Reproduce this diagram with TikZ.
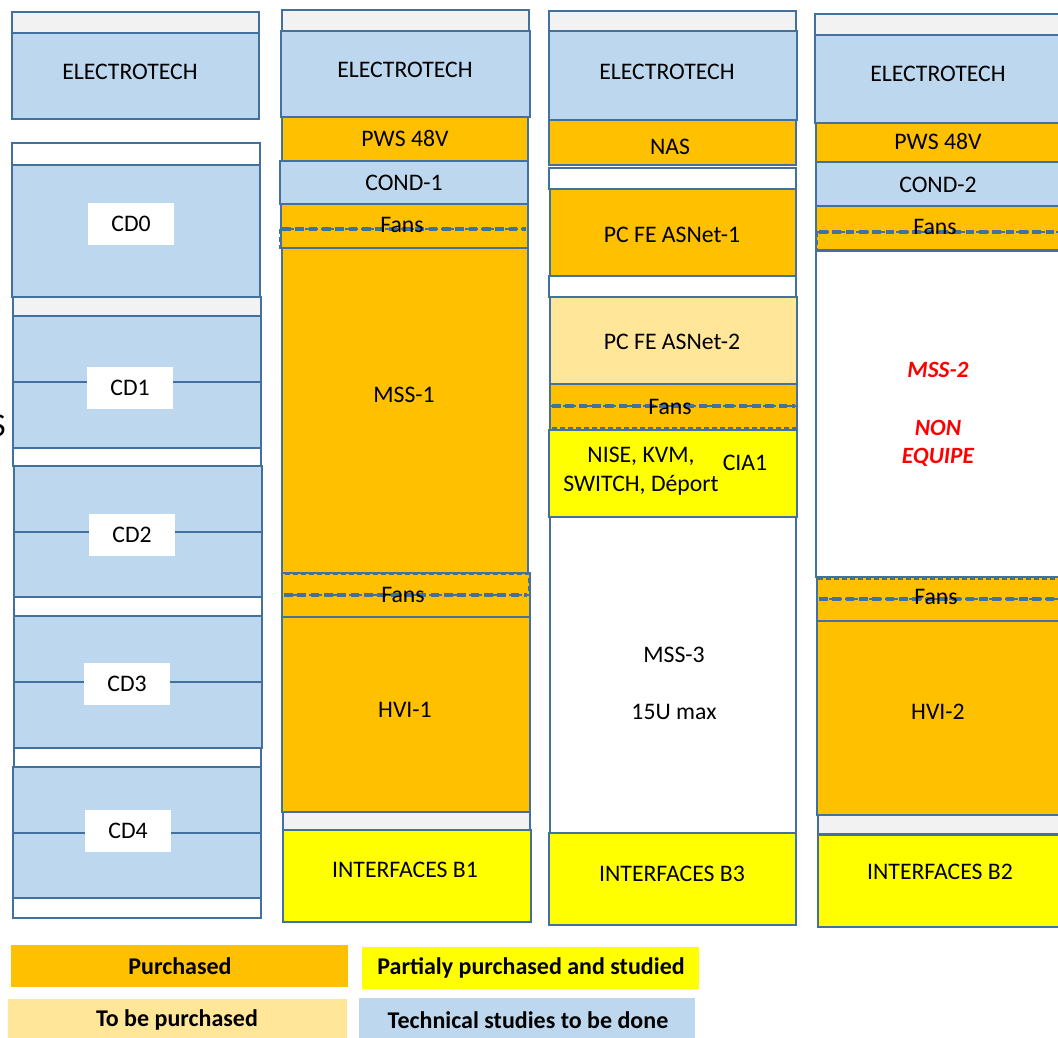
\documentclass[tikz,border=0pt]{standalone}
\usepackage{fontspec}
\setmainfont{Carlito}
\definecolor{edge}{HTML}{41719C}
\definecolor{bfill}{HTML}{BDD7EE}
\definecolor{ofill}{HTML}{FFC000}
\definecolor{lofill}{HTML}{FFE699}
\definecolor{yfill}{HTML}{FFFF00}
\definecolor{gfill}{HTML}{F2F2F2}
\begin{document}
\begin{tikzpicture}[x=0.75pt,y=-0.75pt,
  bx/.style={draw=edge, line width=1.3pt},
  blu/.style={bx, fill=bfill},
  org/.style={bx, fill=ofill},
  lorg/.style={bx, fill=lofill},
  yel/.style={bx, fill=yfill},
  gry/.style={bx, fill=gfill},
  wht/.style={bx, fill=white},
  dsh/.style={draw=edge, line width=2.3pt, dash pattern=on 6.5pt off 3.5pt},
  dshthin/.style={draw=edge, line width=1.4pt, dash pattern=on 4pt off 2pt},
  lbl/.style={font=\fontsize{17.8}{21}\selectfont, inner sep=0pt, text=black},
  red/.style={font=\fontsize{17.5}{21}\selectfont\bfseries\itshape, inner sep=0pt, text=red},
  cdlab/.style={lbl, fill=white, minimum width=65pt, minimum height=32pt},
  leg/.style={font=\fontsize{18}{21}\selectfont\bfseries, inner sep=0pt, text=black}
]
\useasboundingbox (0,0) rectangle (1058,1038);
\fill[white] (0,0) rectangle (1058,1038);

% partial letter at left edge (cut off as in the reference)
\node[font=\fontsize{25}{28}\selectfont, inner sep=0pt, anchor=east] (cut) at (6,426) {S};

% ---------------- Column 1 ----------------
\draw[gry] (12,12) rectangle (259,33);
\draw[blu] (12,33) rectangle (259,119);
\node[lbl] (e1) at (130,72) {ELECTROTECH};

\draw[wht] (12,143) rectangle (260,165);
\draw[blu] (12,165) rectangle (260,297);
\node[cdlab] (cd0) at (131,224) {CD0};

\draw[gry] (13,297) rectangle (261,316);
\draw[blu] (13,316) rectangle (261,382);
\draw[blu] (13,382) rectangle (261,448);
\node[cdlab] (cd1) at (130,388) {CD1};

\draw[wht] (13,448) rectangle (261,466);
\draw[blu] (14,466) rectangle (262,532);
\draw[blu] (14,532) rectangle (262,597);
\node[cdlab] (cd2) at (132,535) {CD2};

\draw[wht] (14,597) rectangle (262,616);
\draw[blu] (14,616) rectangle (262,682);
\draw[blu] (14,682) rectangle (262,748);
\node[cdlab] (cd3) at (127,684) {CD3};

\draw[wht] (14,748) rectangle (261,767);
\draw[blu] (13,767) rectangle (261,833);
\draw[blu] (13,833) rectangle (261,898);
\node[cdlab] (cd4) at (128,831) {CD4};

\draw[wht] (13,898) rectangle (261,918);

% ---------------- Column 2 ----------------
\draw[gry] (282,10) rectangle (529,31);
\draw[blu] (281,31) rectangle (530,117);
\node[lbl] (e2) at (405,70) {ELECTROTECH};
\draw[org] (282,117) rectangle (528,161);
\node[lbl] (pws1) at (405,138) {PWS 48V};
\draw[blu] (280,161) rectangle (528,204);
\node[lbl] (cond1) at (404,183) {COND-1};
\draw[org] (281,204) rectangle (528,248);
\draw[dshthin] (280,229) rectangle (528,248);
\draw[dsh] (282,229) -- (526,229);
\node[lbl] (fans1) at (402,225) {Fans};
\draw[org] (282,248) rectangle (528,573);
\draw[dshthin] (282,248) -- (528,248);
\node[lbl] (mss1) at (404,395) {MSS-1};
\draw[org] (282,573) rectangle (530,617);
\draw[dshthin] (282,574) rectangle (529,595);
\draw[dsh] (284,595) -- (527,595);
\node[lbl] (fans2) at (403,595) {Fans};
\draw[org] (282,617) rectangle (530,812);
\node[lbl] (hvi1) at (405,710) {HVI-1};
\draw[gry] (283,812) rectangle (530,830);
\draw[yel] (283,830) rectangle (531,922);
\node[lbl] (ib1) at (405,870) {INTERFACES B1};

% ---------------- Column 3 ----------------
\draw[gry] (549,11) rectangle (796,31);
\draw[blu] (549,31) rectangle (797,120);
\node[lbl] (e3) at (667,72) {ELECTROTECH};
\draw[org] (549,120) rectangle (796,165);
\node[lbl] (nas) at (670,147) {NAS};
\draw[wht] (549,168) rectangle (796,189);
\draw[org] (550,189) rectangle (796,276);
\node[lbl] (pc1) at (672,235) {PC FE ASNet-1};
\draw[wht] (549,276) rectangle (796,297);
\draw[lorg] (550,297) rectangle (797,384);
\node[lbl] (pc2) at (672,342) {PC FE ASNet-2};
\draw[org] (550,384) rectangle (797,430);
\draw[dshthin] (550,406) rectangle (797,428);
\draw[dsh] (552,406) -- (795,406);
\node[lbl] (fans3) at (670,407) {Fans};
\draw[yel] (549,430) rectangle (797,517);
\node[lbl] (nise1) at (641,456) {NISE, KVM,};
\node[lbl] (nise2) at (641,485) {SWITCH, Déport};
\node[lbl] (cia1) at (745,463) {CIA1};
\draw[wht] (550,517) rectangle (796,833);
\node[lbl] (mss3) at (674,655) {MSS-3};
\node[lbl] (u15) at (674,712) {15U max};
\draw[yel] (549,833) rectangle (796,925);
\node[lbl] (ib3) at (672,874) {INTERFACES B3};

% ---------------- Column 4 ----------------
\draw[gry] (815,14) rectangle (1064,35);
\draw[blu] (815,35) rectangle (1064,123);
\node[lbl] (e4) at (938,74) {ELECTROTECH};
\draw[org] (816,123) rectangle (1064,162);
\node[lbl] (pws2) at (938,141) {PWS 48V};
\draw[blu] (816,162) rectangle (1064,206);
\node[lbl] (cond2) at (938,185) {COND-2};
\draw[org] (816,206) rectangle (1064,250);
\draw[dshthin] (817,232) rectangle (1064,251);
\draw[dsh] (819,232) -- (1064,232);
\node[lbl] (fans4) at (935,227) {Fans};
\draw[wht] (816,251) rectangle (1064,577);
\node[red] (mss2) at (938,370) {MSS-2};
\node[red] (non) at (938,428) {NON};
\node[red] (equipe) at (938,457) {EQUIPE};
\draw[org] (817,577) rectangle (1064,621);
\draw[dshthin] (817,579) rectangle (1064,599);
\draw[dsh] (819,599) -- (1064,599);
\node[lbl] (fans5) at (936,597) {Fans};
\draw[org] (817,621) rectangle (1064,815);
\node[lbl] (hvi2) at (938,712) {HVI-2};
\draw[gry] (818,815) rectangle (1064,834);
\draw[yel] (818,835) rectangle (1064,927);
\node[lbl] (ib2) at (940,872) {INTERFACES B2};

% ---------------- Legend ----------------
\fill[ofill] (11,945) rectangle (348,987);
\node[leg] (lp) at (180,966) {Purchased};
\fill[yfill] (362,947) rectangle (699,989);
\node[leg] (lpp) at (531,968) {Partialy purchased and studied};
\fill[lofill] (8,999) rectangle (347,1038);
\node[leg] (ltb) at (177,1020) {To be purchased};
\fill[bfill] (359,998) rectangle (695,1038);
\node[leg] (lts) at (528,1020) {Technical studies to be done};
\end{tikzpicture}
\end{document}
